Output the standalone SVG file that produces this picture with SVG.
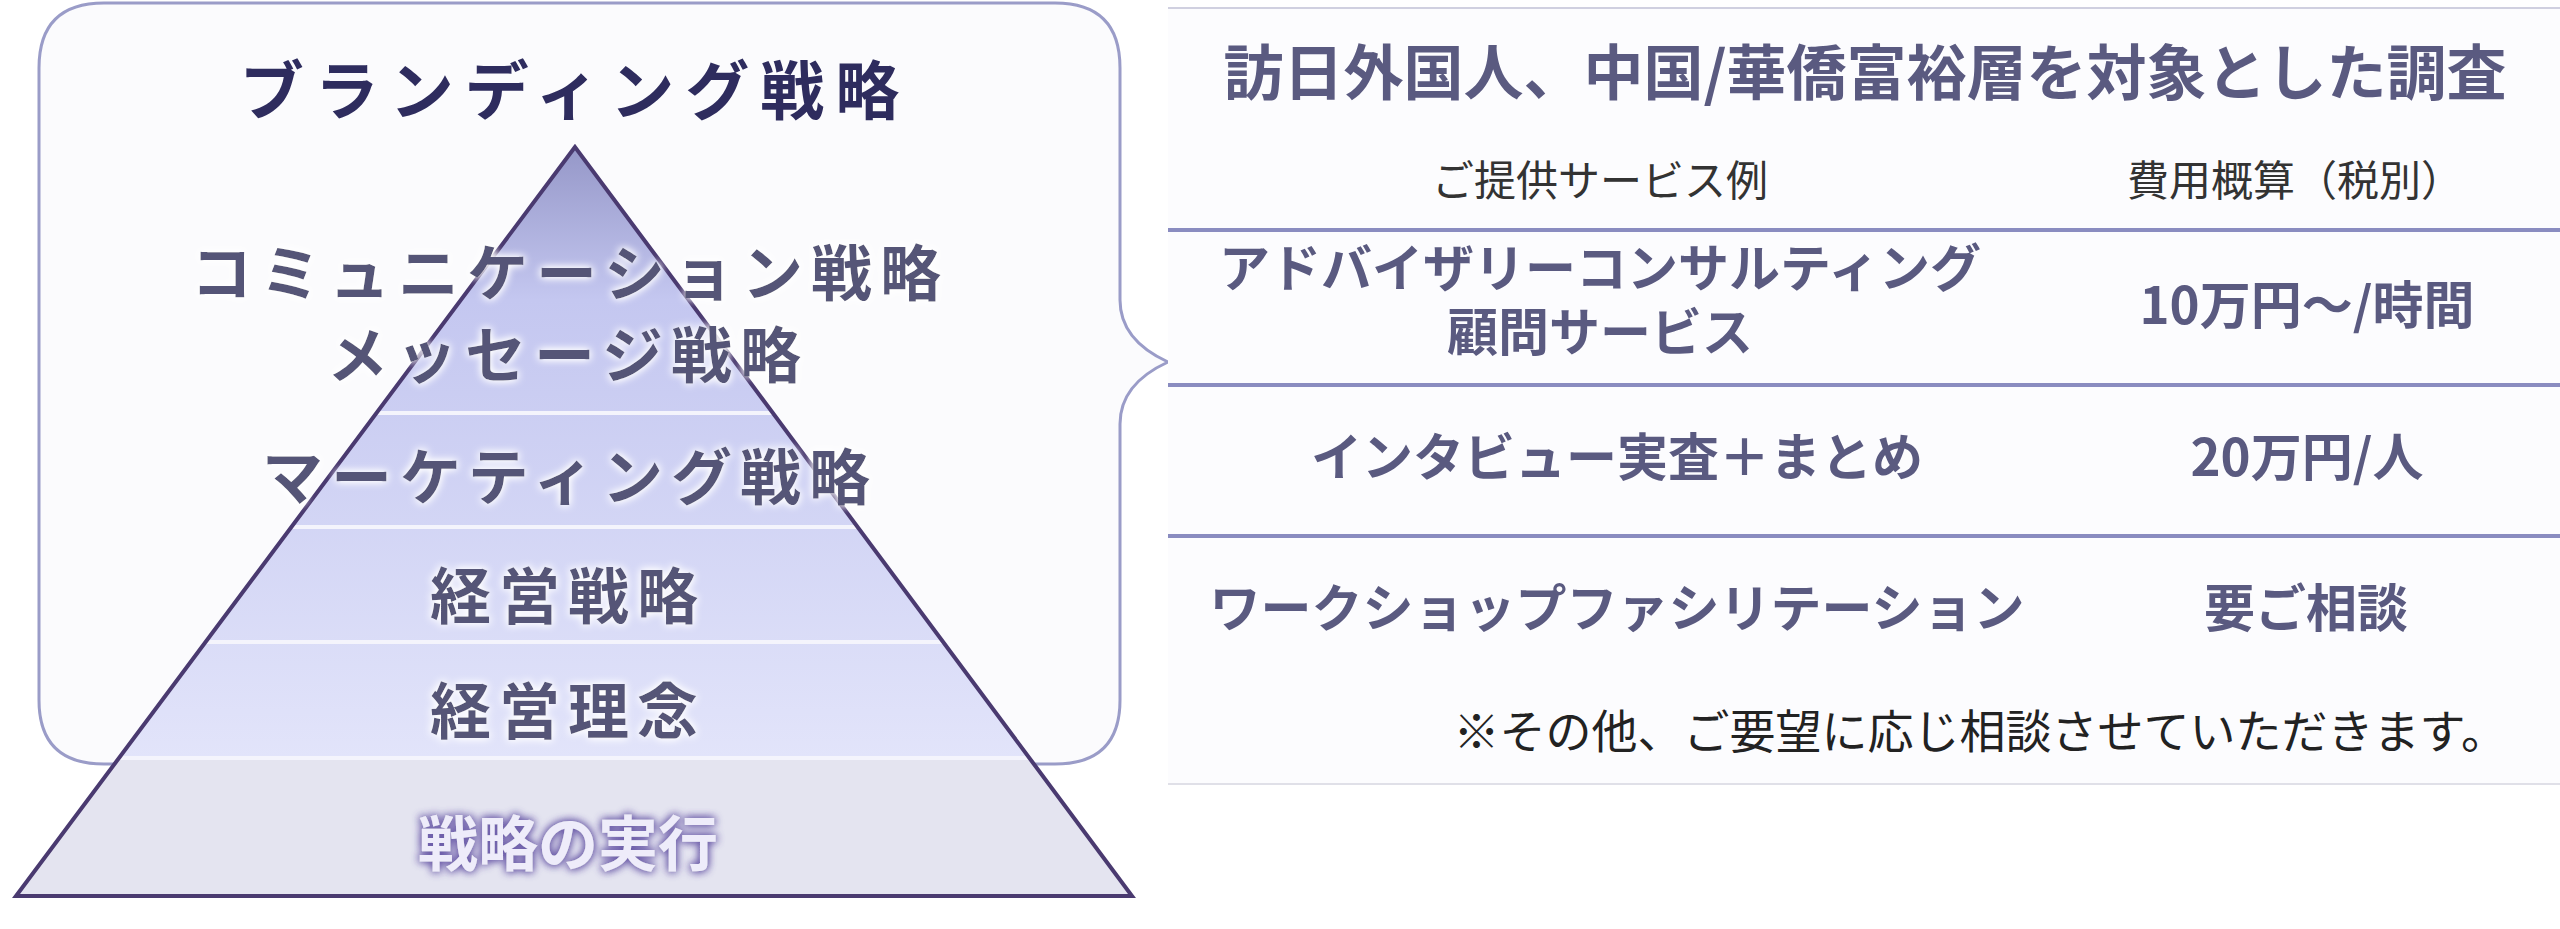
<svg xmlns="http://www.w3.org/2000/svg" width="2560" height="929" viewBox="0 0 2560 929">
<defs>
<linearGradient id="pg" x1="0" y1="147" x2="0" y2="758" gradientUnits="userSpaceOnUse">
<stop offset="0" stop-color="#9597c8"/><stop offset="0.25" stop-color="#c4c7f0"/><stop offset="1" stop-color="#e2e4fa"/>
</linearGradient>
<filter id="glow" x="-10%" y="-30%" width="120%" height="160%"><feGaussianBlur in="SourceAlpha" stdDeviation="4" result="b"/><feFlood flood-color="#ffffff"/><feComposite in2="b" operator="in" result="w"/><feMerge><feMergeNode in="w"/><feMergeNode in="w"/><feMergeNode in="SourceGraphic"/></feMerge></filter>
<filter id="glow2" x="-10%" y="-30%" width="120%" height="160%"><feGaussianBlur in="SourceAlpha" stdDeviation="4" result="b"/><feFlood flood-color="#6a5aa8"/><feComposite in2="b" operator="in" result="w"/><feMerge><feMergeNode in="w"/><feMergeNode in="w"/><feMergeNode in="SourceGraphic"/></feMerge></filter>
<clipPath id="tri"><polygon points="575,147 16,896 1132,896"/></clipPath>
</defs>
<style>
text{font-family:"Noto Sans CJK JP","Noto Sans",sans-serif;text-anchor:middle}
.py{font-weight:700;font-size:61px;fill:#555577;letter-spacing:8px}
.t{font-weight:700;font-size:51px;fill:#5a5a80}
.h{font-size:42px;fill:#333}
.sep{stroke:#8a8cc0;stroke-width:4}
</style>
<rect width="2560" height="929" fill="#ffffff"/>
<g id="brace-box">
<path d="M104,3 H1055 Q1120,3 1120,68 V300 Q1120,340 1168,362 Q1120,384 1120,424 V700 Q1120,764 1055,764 H104 Q39,764 39,700 V68 Q39,3 104,3 Z" fill="#fbfbfd" stroke="#9a9cc8" stroke-width="3"/>
</g>
<g id="pyramid">
<g clip-path="url(#tri)">
<rect x="0" y="140" width="1150" height="618" fill="url(#pg)"/>
<rect x="0" y="758" width="1150" height="140" fill="#e4e4f0"/>
<g stroke="#f4f4fc" stroke-width="4">
<line x1="0" y1="413" x2="1150" y2="413"/><line x1="0" y1="527" x2="1150" y2="527"/><line x1="0" y1="642" x2="1150" y2="642"/><line x1="0" y1="758" x2="1150" y2="758"/>
</g>
</g>
<polygon points="575,147 16,896 1132,896" fill="none" stroke="#4a3a70" stroke-width="4"/>
</g>
<g id="pyramid-labels">
<text x="575" y="114" style="font-weight:700;font-size:64px;fill:#2e2c5e;letter-spacing:11px">ブランディング戦略</text>
<g filter="url(#glow)">
<text class="py" x="570" y="296">コミュニケーション戦略</text>
<text class="py" x="568" y="378">メッセージ戦略</text>
<text class="py" x="570" y="500">マーケティング戦略</text>
<text class="py" x="568" y="619">経営戦略</text>
<text class="py" x="568" y="734">経営理念</text>
</g>
<text x="568" y="866" filter="url(#glow2)" style="font-weight:700;font-size:60px;fill:#eeecfa">戦略の実行</text>
</g>
<g id="table">
<rect x="1168" y="8" width="1392" height="776" fill="#fcfcfe"/>
<line x1="1168" y1="8" x2="2560" y2="8" stroke="#d0d0e0" stroke-width="2"/>
<text x="1865" y="95" style="font-weight:700;font-size:60px;fill:#5a5a80">訪日外国人、中国/華僑富裕層を対象とした調査</text>
<text class="h" x="1600" y="196">ご提供サービス例</text>
<text class="h" x="2295" y="196">費用概算（税別）</text>
<text class="t" x="1600" y="287">アドバイザリーコンサルティング</text>
<text class="t" x="1600" y="351">顧問サービス</text>
<text class="t" x="2307" y="324">10万円〜/時間</text>
<text class="t" x="1617" y="476">インタビュー実査＋まとめ</text>
<text class="t" x="2307" y="476">20万円/人</text>
<text class="t" x="1617" y="627">ワークショップファシリテーション</text>
<text class="t" x="2306" y="627">要ご相談</text>
<text x="2507" y="748" style="text-anchor:end;font-size:46px;fill:#222">※その他、ご要望に応じ相談させていただきます。</text>
</g>
<g id="connectors">
<line class="sep" x1="1168" y1="230" x2="2560" y2="230"/>
<line class="sep" x1="1168" y1="385" x2="2560" y2="385"/>
<line class="sep" x1="1168" y1="536" x2="2560" y2="536"/>
<line x1="1168" y1="784" x2="2560" y2="784" stroke="#e0e0e8" stroke-width="2"/>
</g>
</svg>
